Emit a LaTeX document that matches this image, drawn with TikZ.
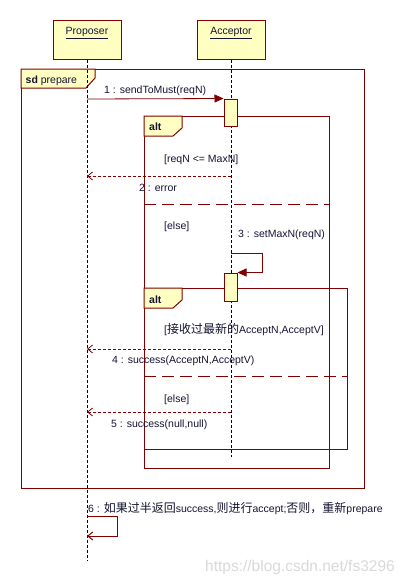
\documentclass[tikz,border=0pt]{standalone}
\usepackage{fontspec}
\setmainfont{Liberation Sans}
\newfontfamily\cjkfont{Noto Sans CJK SC}
\usetikzlibrary{arrows.meta}
\definecolor{umlred}{RGB}{128,0,0}
\definecolor{umlfill}{RGB}{255,255,194}
\definecolor{umltext}{RGB}{20,20,50}
\newcommand{\zhtxt}[1]{{\cjkfont\fontsize{12}{12}\selectfont #1}}
\begin{document}
\begin{tikzpicture}[x=1pt,y=-1pt,
  font=\fontsize{10.5}{12}\selectfont,
  every node/.style={text=umltext, inner sep=0pt},
  head/.style={draw=umlred, fill=umlfill, line width=1pt, minimum width=68pt, minimum height=39pt},
  life/.style={black, dash pattern=on 3pt off 2pt, line width=0.8pt},
  umlframe/.style={draw=umlred, line width=1pt},
  tabbox/.style={draw=umlred, fill=umlfill, line width=1pt},
  actbox/.style={draw=umlred, fill=umlfill, line width=1pt, minimum width=13pt, minimum height=27pt},
  sep/.style={umlred, line width=1pt, dash pattern=on 12pt off 6pt},
  sync/.style={umlred, line width=0.8pt, -{Triangle[length=9pt,width=8pt]}},
  reply/.style={umlred, line width=0.8pt, dash pattern=on 3pt off 2pt, -{Straight Barb[length=5pt,width=8pt]}},
  replysolid/.style={umlred, line width=1pt, -{Straight Barb[length=5pt,width=8pt]}},
  lbl/.style={anchor=base west}
]
\useasboundingbox[fill=white] (0,0) rectangle (407,584);

% frames
\draw[umlframe] (21,69) rectangle (364,488);
\draw[tabbox] (21,69) -- (95,69) -- (95,78) -- (86,88) -- (21,88) -- cycle;
\node[lbl] (sdl) at (25.5,83) {\textbf{sd} prepare};

\draw[umlframe] (144,116) rectangle (329,468);
\draw[tabbox] (144,116) -- (182,116) -- (182,128) -- (173,136) -- (144,136) -- cycle;
\node[lbl] (alt1l) at (149,130.5) {\textbf{alt}};
\draw[sep] (144,204) -- (329,204);

\draw[umlframe] (144,288) rectangle (347,449);
\draw[tabbox] (144,288) -- (182,288) -- (182,300) -- (173,308) -- (144,308) -- cycle;
\node[lbl] (alt2l) at (149,303) {\textbf{alt}};
\draw[sep] (144,376) -- (347,376);

% heads and lifelines
\node[head] (prop) at (87,39.5) {};
\node[anchor=base] (propl) at (87,34.5) {\underline{Proposer}};
\node[head] (acc) at (231,39.5) {};
\node[anchor=base] (accl) at (231,34.5) {\underline{Acceptor}};
\coordinate (propEnd) at (87,561);
\coordinate (accEnd) at (231,457);
\draw[life] (prop.south) -- (propEnd);
\draw[life] (acc.south) -- (accEnd);

% activations
\node[actbox] (act1) at (230.5,112.5) {};
\node[actbox, minimum height=28pt] (act2) at (230.5,287) {};

% message endpoints
\coordinate (m1a) at (87,99);
\coordinate (m2a) at (231,176);
\coordinate (m2b) at (87,176);
\coordinate (m3a) at (231,253);
\coordinate (m3b) at (262,253);
\coordinate (m4a) at (231,349);
\coordinate (m4b) at (87,349);
\coordinate (m5a) at (231,412);
\coordinate (m5b) at (87,412);
\coordinate (m6a) at (87,516);
\coordinate (m6b) at (117,516);
\coordinate (m6c) at (87,536);

\draw[sync] (m1a) -- (act1.north west);
\draw[reply] (m2a) -- (m2b);
\draw[sync] (m3a) -- (m3b) |- (act2.north east);
\draw[reply] (m4a) -- (m4b);
\draw[reply] (m5a) -- (m5b);
\draw[replysolid] (m6a) -- (m6b) |- (m6c);

% labels
\node[lbl] (t1) at (104,93.5) {1 : sendToMust(reqN)};
\node[lbl] (g1) at (164,162) {[reqN <= MaxN]};
\node[lbl] (t2) at (139,191) {2 : error};
\node[lbl] (g2) at (164,229.5) {[else]};
\node[lbl] (t3) at (238,237.5) {3 : setMaxN(reqN)};
\node[lbl] (g3) at (164,333.5) {[\zhtxt{接收过最新的}AcceptN,AcceptV]};
\node[lbl] (t4) at (112,363) {4 : success(AcceptN,AcceptV)};
\node[lbl] (g4) at (164,402) {[else]};
\node[lbl] (t5) at (111,427) {5 : success(null,null)};
\node[lbl] (t6) at (88,512) {6 : \zhtxt{如果过半返回}success,\zhtxt{则进行}accept;\zhtxt{否则，重新}prepare};

\node[lbl, text=black!15, font=\fontsize{15.5}{16}\selectfont] (wm) at (205,571) {https://blog.csdn.net/fs3296};
\end{tikzpicture}
\end{document}
